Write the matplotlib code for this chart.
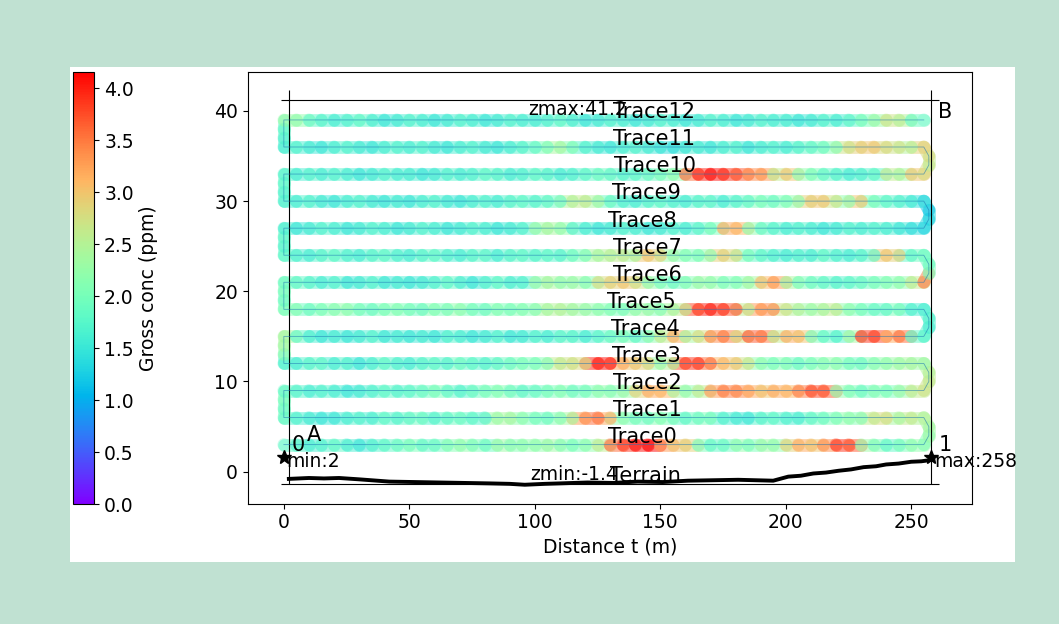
import numpy as np
import matplotlib
matplotlib.use('Agg')
import matplotlib.pyplot as plt
from matplotlib.patches import Rectangle
from matplotlib.collections import LineCollection
from matplotlib.colors import Normalize

# sample positions along each survey line (m)
dist = np.arange(0, 260, 5)
trace_y = [3, 6, 9, 12, 15, 18, 21, 24, 27, 30, 33, 36, 39]

# gross concentration (ppm), ordered by distance
trace0 = [1.8, 1.7, 1.6, 1.7, 1.8, 1.6, 1.5, 1.7, 1.8, 1.9,
          2.0, 1.8, 1.9, 2.1, 2.2, 2.0, 1.9, 2.3, 2.1, 2.2,
          2.2, 2.3, 2.1, 2.0, 2.2, 2.6, 3.6, 3.9, 4.1, 4.2,
          3.3, 3.0, 2.9, 2.0, 1.8, 1.9, 2.2, 2.0, 2.3, 2.2,
          2.9, 3.2, 3.0, 3.4, 3.9, 3.7, 2.3, 2.0, 1.8, 2.0, 2.2, 2.1]
trace1 = [1.9, 1.7, 1.6, 1.5, 1.5, 1.6, 1.7, 1.6, 1.8, 1.7,
          1.8, 1.9, 1.7, 1.8, 1.9, 1.8, 1.7, 2.3, 2.4, 2.2,
          2.0, 1.9, 2.1, 2.4, 3.3, 3.6, 3.2, 2.2, 2.0, 1.9,
          2.1, 2.0, 1.8, 1.9, 2.0, 1.7, 1.6, 1.5, 1.7, 1.8,
          1.7, 1.6, 1.8, 1.9, 2.0, 2.2, 2.1, 2.6, 2.8, 2.4, 2.6, 2.5]
trace2 = [1.8, 1.7, 1.6, 1.7, 1.6, 1.5, 1.6, 1.7, 1.8, 1.7,
          1.8, 1.9, 2.0, 1.8, 1.7, 1.9, 2.0, 2.1, 1.9, 1.8,
          1.9, 2.0, 2.1, 1.9, 2.0, 2.2, 2.1, 2.3, 2.9, 3.2,
          3.1, 2.4, 2.2, 2.6, 3.3, 3.5, 3.4, 3.2, 3.0, 3.2,
          3.1, 3.5, 3.8, 3.7, 2.2, 2.0, 1.9, 2.1, 2.0, 2.3, 2.6, 2.7]
trace3 = [1.7, 1.6, 1.7, 1.8, 1.6, 1.7, 1.5, 1.6, 1.8, 1.7,
          1.6, 1.7, 1.8, 1.7, 1.9, 1.8, 1.7, 1.8, 1.9, 2.0,
          2.0, 2.1, 2.6, 2.7, 2.8, 4.0, 4.1, 3.2, 3.0, 2.9,
          2.3, 2.5, 3.8, 3.9, 3.6, 3.1, 3.0, 2.7, 2.2, 2.0,
          2.1, 1.9, 2.0, 2.1, 2.2, 2.0, 1.9, 2.1, 2.2, 2.3, 2.4, 2.3]
trace4 = [2.4, 1.8, 1.6, 1.5, 1.6, 1.5, 1.6, 1.7, 1.5, 1.6,
          1.5, 1.6, 1.5, 1.7, 1.6, 1.5, 1.6, 1.7, 1.5, 1.6,
          1.7, 1.6, 1.8, 1.7, 1.6, 1.8, 1.9, 2.0, 1.8, 2.2,
          2.6, 3.2, 2.4, 2.8, 3.4, 3.5, 2.8, 3.7, 3.5, 2.6,
          3.2, 3.0, 2.0, 1.8, 1.7, 2.4, 3.9, 3.8, 3.2, 3.6, 1.8, 1.7]
trace5 = [2.0, 2.1, 1.9, 2.0, 2.1, 2.2, 2.0, 1.9, 2.0, 2.1,
          2.0, 1.9, 2.1, 2.0, 2.2, 2.0, 1.9, 2.1, 2.0, 2.1,
          2.1, 2.4, 2.5, 2.4, 2.3, 2.2, 2.1, 2.0, 2.2, 2.3,
          2.1, 2.4, 2.6, 3.8, 4.0, 3.9, 3.7, 2.6, 3.3, 3.4,
          2.7, 2.5, 2.3, 2.4, 2.6, 2.2, 2.0, 1.9, 1.8, 2.0, 1.7, 1.6]
trace6 = [1.9, 1.8, 1.7, 1.6, 1.7, 1.5, 1.6, 1.7, 1.5, 1.6,
          1.5, 1.6, 1.7, 1.8, 1.6, 1.5, 1.7, 1.8, 1.6, 1.7,
          2.3, 2.4, 2.2, 2.3, 2.1, 2.8, 2.9, 3.0, 2.7, 2.2,
          2.0, 1.9, 2.1, 2.3, 2.2, 2.0, 2.1, 2.4, 3.1, 3.3,
          2.4, 2.0, 1.9, 1.8, 1.7, 1.8, 1.9, 2.0, 2.1, 2.2, 2.6, 3.5]
trace7 = [1.8, 1.7, 1.6, 1.7, 1.8, 1.7, 1.6, 1.7, 1.8, 1.7,
          1.6, 1.7, 1.8, 1.7, 1.6, 1.7, 1.8, 1.6, 1.7, 1.8,
          1.7, 1.8, 1.7, 1.9, 2.0, 2.4, 2.5, 2.6, 2.4, 3.0,
          2.9, 2.3, 2.1, 2.0, 2.2, 2.9, 2.8, 2.0, 1.8, 1.7,
          1.6, 1.7, 1.6, 1.8, 1.7, 1.6, 1.7, 1.8, 3.0, 2.9, 1.8, 1.9]
trace8 = [1.6, 1.5, 1.6, 1.7, 1.6, 1.5, 1.6, 1.7, 1.6, 1.5,
          1.6, 1.7, 1.6, 1.5, 1.6, 1.7, 1.6, 1.5, 1.6, 1.7,
          2.3, 2.4, 2.2, 1.7, 1.6, 1.5, 1.6, 1.7, 1.6, 1.5,
          1.6, 1.7, 1.6, 1.8, 2.0, 3.2, 3.1, 2.2, 1.8, 1.7,
          1.6, 1.7, 1.6, 1.5, 1.6, 1.7, 1.6, 1.7, 1.6, 1.5, 1.4, 1.3]
trace9 = [1.7, 1.6, 1.7, 1.6, 1.5, 1.6, 1.7, 1.6, 1.5, 1.6,
          1.5, 1.6, 1.7, 1.6, 1.5, 1.6, 1.7, 1.6, 1.7, 1.8,
          1.7, 1.8, 1.9, 2.5, 2.6, 2.4, 1.9, 1.7, 1.6, 1.7,
          1.8, 1.7, 1.6, 1.7, 1.8, 1.6, 1.7, 1.8, 2.0, 1.9,
          2.0, 2.2, 2.9, 3.0, 2.7, 2.2, 3.0, 2.0, 1.8, 1.7, 1.6, 1.4]
trace10 = [1.7, 1.6, 1.7, 1.6, 1.7, 1.6, 1.5, 1.6, 1.7, 1.6,
           1.6, 1.5, 1.6, 1.7, 1.6, 1.7, 1.8, 1.7, 1.6, 1.7,
           1.8, 1.7, 1.6, 1.7, 1.8, 1.9, 1.8, 1.7, 1.8, 1.9,
           2.0, 2.2, 3.6, 4.0, 4.1, 3.9, 3.7, 3.4, 3.3, 2.6,
           3.0, 2.2, 2.0, 1.8, 1.7, 1.6, 1.7, 1.8, 2.6, 2.4, 3.0, 2.8]
trace11 = [1.6, 1.7, 1.6, 1.5, 1.6, 1.7, 1.6, 1.5, 1.6, 1.7,
           1.6, 1.7, 1.6, 1.5, 1.6, 1.7, 1.6, 1.5, 1.6, 1.7,
           1.8, 2.0, 2.4, 2.1, 1.7, 1.6, 1.5, 1.6, 1.7, 1.6,
           1.5, 1.4, 1.5, 1.6, 1.5, 1.6, 1.7, 1.5, 1.6, 1.7,
           1.6, 1.7, 1.8, 1.9, 2.1, 2.7, 2.9, 3.0, 2.8, 2.7, 2.5, 2.9]
trace12 = [2.3, 2.2, 1.8, 1.7, 1.6, 1.7, 1.8, 1.6, 1.5, 1.6,
           1.7, 1.6, 1.5, 1.6, 1.7, 1.6, 1.5, 1.6, 1.7, 1.6,
           1.6, 1.7, 1.8, 1.6, 1.5, 1.6, 1.7, 1.6, 1.5, 1.6,
           1.7, 1.6, 1.5, 1.6, 1.7, 1.6, 1.5, 1.6, 1.7, 1.6,
           1.6, 1.5, 1.6, 1.7, 1.6, 1.8, 2.0, 2.3, 2.7, 2.5, 1.9, 1.8]
traces = [trace0, trace1, trace2, trace3, trace4, trace5, trace6,
          trace7, trace8, trace9, trace10, trace11, trace12]

# turn-around readings between consecutive lines
links = [[2.3, 2.4], [1.9, 2.0], [2.6, 2.5], [2.2, 2.4], [1.6, 1.7], [1.9, 2.0],
         [2.0, 1.9], [1.7, 1.8], [1.3, 1.2], [1.7, 1.8], [2.6, 2.8], [1.7, 1.8]]

# label positions of the traces (distance of the label centre)
label_x = [143, 145, 145, 144.5, 144, 142.6, 145, 145, 143, 144.4, 148, 147.5, 147.6]

# terrain profile
terrain_t = [2, 6, 10, 16, 22, 30, 42, 52, 62, 72, 82, 90, 96, 104, 110, 121,
             131, 141, 151, 161, 171, 181, 188, 195, 201, 206, 211, 216, 221,
             226, 231, 236, 240, 245, 250, 254, 258]
terrain_z = [-0.8, -0.75, -0.7, -0.75, -0.7, -0.85, -1.1, -1.15, -1.2, -1.25,
             -1.3, -1.35, -1.45, -1.35, -1.3, -1.2, -1.25, -1.1, -1.15, -1.0,
             -0.95, -0.9, -0.95, -1.0, -0.55, -0.45, -0.2, -0.1, 0.1, 0.25, 0.5,
             0.6, 0.8, 0.9, 1.1, 1.15, 1.3]

tmin, tmax = 2, 258
zmin, zmax = -1.4, 41.2
vmax = 4.16

#====================================================================
# build the walking path

px, py, pc = [], [], []
for k, vals in enumerate(traces):
    y = trace_y[k]
    if k % 2 == 0:
        xs, vs = dist, vals
    else:
        xs, vs = dist[::-1], vals[::-1]
    px += list(xs)
    py += [y] * len(xs)
    pc += list(vs)
    if k < len(links):
        xe = 257 if k % 2 == 0 else 0
        px += [xe, xe]
        py += [y + 1, y + 2]
        pc += links[k]

pts = np.column_stack([px, py])
segs = np.stack([pts[:-1], pts[1:]], axis=1)

#====================================================================

plt.rcParams['font.size'] = 13.5

fig = plt.figure(figsize=(10.59, 6.24), dpi=100, facecolor='#c0e1d2')
fig.patches.append(Rectangle((70 / 1059, 62 / 624), 945 / 1059, 495 / 624,
                             transform=fig.transFigure, facecolor='white',
                             edgecolor='none', zorder=-1))

ax = fig.add_axes([0.2339, 0.1931, 0.6837, 0.692])
cax = fig.add_axes([0.0687, 0.1923, 0.0204, 0.6928])

norm = Normalize(vmin=0, vmax=vmax)
cmap = plt.get_cmap('rainbow')

band = LineCollection(segs, colors=cmap(norm(np.array(pc[:-1]))),
                      linewidths=9.2, alpha=0.5, capstyle='round', zorder=1)
ax.add_collection(band)
ax.scatter(px, py, c=pc, cmap=cmap, norm=norm, s=85, alpha=0.3,
           edgecolors='none', zorder=2)
ax.plot(px, py, color='#1f77b4', lw=0.6, alpha=0.6, zorder=3)

ax.plot(terrain_t, terrain_z, color='k', lw=2.8, zorder=3)

# bounding box
ax.hlines([zmin, zmax], -1.3, 261, colors='k', lw=0.8)
ax.vlines([tmin, tmax], zmin, 42.3, colors='k', lw=0.8)

ax.plot([0, 258], [1.6, 1.6], 'k*', ms=10, zorder=4)
ax.text(3, 1.8, '0', fontsize=15, ha='left', va='bottom')
ax.text(261, 1.8, '1', fontsize=15, ha='left', va='bottom')
ax.text(9, 3.0, 'A', fontsize=15, ha='left', va='bottom')
ax.text(260.5, 38.8, 'B', fontsize=15, ha='left', va='bottom')
ax.text(1, 2.2, 'min:' + str(tmin), fontsize=13.5, ha='left', va='top')
ax.text(259, 2.2, 'max:' + str(tmax), fontsize=13.5, ha='left', va='top')
ax.text(117, zmax, 'zmax:' + str(zmax), fontsize=13.5, ha='center', va='top')
ax.text(115.5, zmin, 'zmin:' + str(zmin), fontsize=13.5, ha='center', va='bottom')

for k in range(len(traces)):
    ax.text(label_x[k], trace_y[k] + 0.85, 'Trace' + str(k), fontsize=15,
            ha='center', va='center', zorder=5)
ax.text(144, -0.45, 'Terrain', fontsize=15, ha='center', va='center', zorder=5)

ax.set_xlim(-14.4, 274.1)
ax.set_ylim(-3.53, 44.35)
ax.set_xlabel('Distance t (m)', fontsize=13.5)

sm = plt.cm.ScalarMappable(norm=norm, cmap=cmap)
cb = fig.colorbar(sm, cax=cax)
cb.set_ticks(np.arange(0, 4.01, 0.5))
cb.set_label('Gross conc (ppm)', fontsize=13.5)

fig.savefig('out.png', dpi=100, facecolor=fig.get_facecolor())
